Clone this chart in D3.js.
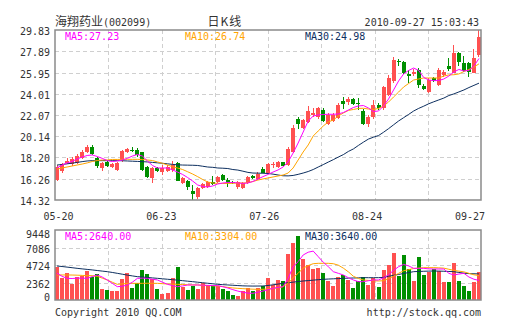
<!DOCTYPE html>
<html><head><meta charset="utf-8">
<script src="https://cdn.jsdelivr.net/npm/d3@7"></script>
<style>
body{margin:0;background:#fff}
svg{display:block}
text{font-family:"DejaVu Sans Mono","Liberation Mono",monospace;font-size:10px}
</style>
</head><body>
<svg id="chart" width="505" height="330"></svg>
<script>
// ---------- DATA ----------
const stockName = "海翔药业";
const stockCode = "(002099)";
const chartTitle = "日K线";
const stamp = "2010-09-27 15:03:43";

const dates = ["05-20","05-21","05-24","05-25","05-26","05-27","05-28","05-31",
"06-01","06-02","06-03","06-04","06-07","06-08","06-09","06-10","06-11",
"06-17","06-18","06-21","06-22","06-23","06-24","06-25","06-28","06-29","06-30",
"07-05","07-06","07-07","07-08","07-09","07-12","07-13","07-14","07-15","07-16",
"07-19","07-20","07-21","07-22","07-23","07-26","07-27","07-28","07-29","07-30",
"08-02","08-03","08-04","08-05","08-06","08-09","08-10","08-11","08-12","08-13",
"08-16","08-17","08-18","08-19","08-20","08-23","08-24","08-25","08-26","08-27",
"08-30","08-31","09-01","09-02","09-03","09-06","09-07","09-08","09-09","09-10",
"09-13","09-14","09-15","09-16","09-17","09-20","09-21","09-27"];

const opens = [16.15,16.97,17.72,17.58,17.72,18.13,18.67,19.18,18.13,17.21,
17.76,17.30,17.06,17.97,18.67,18.88,18.88,18.67,17.36,16.35,
17.27,16.90,16.97,17.06,17.67,15.84,16.08,15.17,14.62,15.39,
15.53,15.99,15.99,16.60,16.14,15.99,15.48,15.39,15.84,16.54,
16.21,17.15,16.76,17.51,17.36,17.76,17.51,18.67,21.71,20.86,
21.46,22.08,21.92,22.53,21.23,21.56,21.77,23.35,23.29,23.51,
23.20,22.47,21.25,21.92,22.96,22.71,23.93,25.15,26.97,26.88,
25.82,25.79,26.21,24.75,24.15,25.45,24.84,25.73,26.55,25.94,
27.71,26.79,26.85,25.94,27.55];
const highs = [17.51,17.67,18.18,18.27,18.52,18.88,19.34,19.34,18.27,17.81,
17.97,17.67,17.81,18.88,19.04,19.13,19.09,18.73,17.45,17.36,
17.36,17.51,17.51,17.88,17.76,16.42,16.14,15.69,15.53,15.87,
16.05,16.54,16.51,16.66,16.30,16.05,16.05,15.96,16.54,16.60,
16.85,17.33,17.67,17.81,17.88,17.81,19.18,21.16,21.92,21.71,
22.92,22.69,22.83,22.69,22.26,22.23,23.14,23.75,23.75,23.63,
23.60,22.62,22.08,23.47,23.17,24.72,25.75,27.34,27.21,26.97,
26.21,26.27,26.34,24.90,25.45,25.54,26.36,26.18,27.28,28.46,
27.85,27.46,26.94,28.07,29.83];
const lows = [16.05,16.76,17.60,17.45,17.60,18.06,18.58,18.43,17.21,16.97,
17.36,17.21,16.97,17.81,18.58,18.67,18.27,16.97,16.35,15.87,
16.90,16.60,16.87,16.90,16.08,15.78,15.23,14.32,14.41,15.32,
15.44,15.69,15.87,16.08,15.48,15.78,15.32,15.32,15.78,16.24,
16.14,16.76,16.66,17.21,17.27,17.42,17.45,18.58,20.80,20.80,
21.32,21.92,21.71,21.46,21.16,21.46,21.71,22.60,22.99,22.99,
22.53,21.16,21.01,21.71,22.56,22.53,23.81,24.99,26.52,25.82,
24.99,25.63,24.51,24.36,24.06,25.06,24.75,25.54,26.09,25.88,
26.55,26.03,25.52,25.88,27.40];
const closes = [17.36,17.58,17.91,18.06,18.33,18.73,19.18,18.52,17.42,17.72,
17.42,17.58,17.67,18.79,18.95,18.79,18.43,17.06,16.45,17.21,
16.97,17.27,17.36,17.51,16.08,16.30,15.48,14.87,15.44,15.75,
15.93,15.75,16.45,16.14,15.84,15.84,15.93,15.84,16.45,16.30,
16.66,16.81,17.58,17.63,17.76,17.45,18.97,20.92,21.25,21.62,
22.44,22.29,22.69,21.56,22.08,22.08,22.99,23.05,23.51,23.05,
23.05,21.25,21.92,22.99,22.71,24.60,25.45,27.12,26.88,25.91,
25.66,26.03,24.84,24.45,25.24,25.15,26.21,26.00,26.27,27.76,
26.94,26.12,26.03,27.25,29.22];

const ma5 = [17.24,17.51,17.70,17.83,18.06,18.24,18.38,18.43,18.29,18.12,
17.92,17.83,17.88,17.97,18.12,18.33,18.47,18.33,17.88,17.47,
17.24,17.24,17.24,17.06,16.87,16.65,16.37,16.05,15.69,15.55,
15.51,15.60,15.78,15.87,15.92,15.92,15.87,15.84,15.87,16.01,
16.24,16.45,16.65,16.87,17.06,17.33,17.79,18.61,19.52,20.52,
21.53,21.98,22.08,22.12,22.14,22.14,22.17,22.30,22.53,22.76,
22.90,22.94,22.71,22.39,22.44,22.90,23.54,24.36,25.18,25.82,
26.14,26.36,26.14,25.50,25.27,25.21,25.22,25.36,25.63,26.00,
26.23,26.09,26.14,26.55,27.23];
const ma10 = [17.15,17.24,17.33,17.42,17.51,17.60,17.70,17.83,17.92,17.97,
17.97,18.02,18.02,18.03,18.03,18.03,18.03,18.02,17.97,17.92,
17.79,17.67,17.51,17.36,17.24,17.10,16.90,16.69,16.45,16.19,
15.96,15.87,15.84,15.83,15.83,15.84,15.87,15.87,15.90,16.01,
16.14,16.24,16.33,16.42,16.51,16.60,16.78,17.24,17.97,18.70,
19.34,20.16,20.62,21.07,21.44,21.62,21.98,22.26,22.49,22.58,
22.67,22.69,22.62,22.58,22.67,22.90,23.26,23.72,24.17,24.63,
24.95,25.27,25.36,25.45,25.45,25.45,25.45,25.63,25.73,25.75,
25.82,26.04,26.23,26.46,26.74];
const ma30 = [17.51,17.56,17.62,17.68,17.75,17.82,17.88,17.91,17.91,17.91,
17.91,17.91,17.91,17.90,17.88,17.86,17.84,17.82,17.79,17.75,
17.71,17.67,17.62,17.57,17.53,17.51,17.50,17.49,17.47,17.40,
17.33,17.30,17.24,17.22,17.19,17.10,17.05,16.95,16.84,16.78,
16.77,16.76,16.74,16.68,16.60,16.53,16.52,16.56,16.66,16.78,
16.92,17.10,17.33,17.55,17.78,18.00,18.24,18.46,18.75,18.98,
19.30,19.60,19.88,20.05,20.20,20.50,20.83,21.18,21.53,21.83,
22.13,22.44,22.68,22.88,23.10,23.28,23.45,23.62,23.85,24.00,
24.18,24.36,24.58,24.78,24.98];

const volumes = [4410,3015,3690,2160,3150,3285,3915,3150,3510,1485,
1350,1215,1215,2835,3690,1665,2250,4050,3510,2835,
1485,855,990,3015,4455,1710,1350,1890,1485,2340,
2025,1890,1890,1485,1260,675,540,1260,1665,1260,
1620,1900,2970,1980,2700,2565,6250,7740,8670,5600,
4725,4160,4275,3690,2590,1920,3100,3375,2650,1665,
2600,3150,2000,2970,1800,4100,4725,6390,3220,6075,
4230,2590,5800,3375,3750,4185,3900,2450,2450,5040,
2590,1935,1260,2450,3825];
const volMa5 = [3600,3200,2925,2900,2950,2950,2925,3150,3375,3100,
2700,2250,1800,1850,2025,2400,2925,2950,2925,2800,
2700,2400,2115,1950,1800,1900,2025,2025,2025,2000,
1970,1950,1935,1800,1620,1400,1200,1050,930,900,
1050,1200,1400,1575,1700,1800,2900,4500,5175,6075,
6450,6600,5850,5100,4500,3825,3600,3375,3000,2700,
2475,2475,2600,2700,2700,3000,3400,4000,4500,4800,
4600,4275,4275,4275,4200,4185,4185,4185,3600,3375,
3500,3600,3100,2800,2640];
const volMa10 = [3375,3380,3380,3370,3350,3320,3290,3285,3200,2950,
2700,2400,2115,2180,2230,2250,2250,2250,2260,2250,
2250,2200,2160,2130,2115,2090,2060,2040,2025,1990,
1950,1920,1890,1800,1700,1630,1575,1530,1490,1460,
1440,1440,1500,1560,1650,1800,2250,3000,3600,4300,
4650,4900,4950,4950,4950,4900,4700,4300,3800,3200,
2900,2700,2650,2600,2565,2600,2900,3200,3600,3950,
4100,4250,4300,4365,4365,4365,4340,4300,4150,4000,
3900,3800,3600,3400,3304];
const volMa30 = [4590,4520,4440,4360,4275,4200,4130,4060,3980,3900,
3825,3720,3600,3480,3360,3250,3150,3100,3040,2980,
2925,2860,2800,2740,2680,2610,2540,2475,2400,2330,
2260,2190,2115,2070,2030,1990,1950,1910,1890,1880,
1885,1890,1960,2050,2150,2250,2330,2410,2490,2565,
2620,2680,2740,2790,2830,2860,2890,2925,2950,2970,
2990,3015,3010,3010,3015,3050,3200,3330,3450,3580,
3700,3825,3850,3880,3900,3915,3900,3880,3850,3825,
3720,3620,3560,3540,3520];

const priceTicks = [14.32,16.26,18.20,20.14,22.07,24.01,25.95,27.89,29.83];
const volTicks = [0,2362,4724,7086,9448];
const dateTicks = ["05-20","06-23","07-26","08-24","09-27"];
const maLabels = ["MA5:27.23","MA10:26.74","MA30:24.98"];
const volMaLabels = ["MA5:2640.00","MA10:3304.00","MA30:3640.00"];
const footLeft = "Copyright 2010 QQ.COM";
const footRight = "http://stock.qq.com";

// ---------- STYLE ----------
const RED = "#ff5050", GREEN = "#008f00";
const C5 = "#ff00ff", C10 = "#ffa500", C30 = "#0d2f5f";
const GRID = "#cfcfcf", FRAME = "#8a8a8a", TXT = "#333";

const svg = d3.select("#chart");
const L = 55, R = 481;
const mainTop = 30, mainBot = 200, volTop = 230, volBot = 300;

const x = d3.scaleBand().domain(dates).range([L, R]).paddingInner(0.2).paddingOuter(0);
const cx = d => x(d) + x.bandwidth() / 2;
const yP = d3.scaleLinear().domain([priceTicks[0], priceTicks[priceTicks.length-1]]).range([mainBot, mainTop]);
const yV = d3.scaleLinear().domain([0, volTicks[volTicks.length-1]]).range([volBot, volTop]);
const gridX = d3.scaleLinear().domain([0, 8]).range([L, R]);
const labelX = d3.scaleLinear().domain([0, dates.length-1]).range([58.5, 470]);

const rows = dates.map((d,i)=>({d, o:opens[i], h:highs[i], l:lows[i], c:closes[i], v:volumes[i],
  m5:ma5[i], m10:ma10[i], m30:ma30[i], v5:volMa5[i], v10:volMa10[i], v30:volMa30[i]}));
const col = r => r.c >= r.o ? RED : GREEN;

function panelGrid(top, bot, yScale, ticks){
  const g = svg.append("g");
  g.selectAll("line.h").data(ticks.slice(1, -1)).join("line")
    .attr("x1", L).attr("x2", R)
    .attr("y1", t => Math.round(yScale(t)) + 0.5).attr("y2", t => Math.round(yScale(t)) + 0.5)
    .attr("stroke", GRID).attr("stroke-dasharray", "4,3");
  g.selectAll("line.v").data(d3.range(1, 8)).join("line")
    .attr("x1", k => Math.round(gridX(k)) + 0.5).attr("x2", k => Math.round(gridX(k)) + 0.5)
    .attr("y1", top).attr("y2", bot)
    .attr("stroke", GRID).attr("stroke-dasharray", "4,3");
}
panelGrid(mainTop, mainBot, yP, priceTicks);
panelGrid(volTop, volBot, yV, volTicks);

// candles
const cg = svg.append("g").attr("shape-rendering", "crispEdges");
cg.selectAll("line.wick").data(rows).join("line")
  .attr("x1", r => Math.floor(cx(r.d)) + 0.5).attr("x2", r => Math.floor(cx(r.d)) + 0.5)
  .attr("y1", r => yP(r.h)).attr("y2", r => yP(r.l))
  .attr("stroke", col);
cg.selectAll("rect").data(rows).join("rect")
  .attr("x", r => Math.round(x(r.d)))
  .attr("width", Math.round(x.bandwidth()))
  .attr("y", r => yP(Math.max(r.o, r.c)))
  .attr("height", r => Math.max(1, yP(Math.min(r.o, r.c)) - yP(Math.max(r.o, r.c))))
  .attr("fill", col);

// volume bars
svg.append("g").attr("shape-rendering", "crispEdges")
  .selectAll("rect").data(rows).join("rect")
  .attr("x", r => Math.round(x(r.d)))
  .attr("width", Math.round(x.bandwidth()))
  .attr("y", r => yV(r.v))
  .attr("height", r => volBot - yV(r.v))
  .attr("fill", col);

// MA lines
function maLine(key, yScale, color){
  svg.append("path").datum(rows)
    .attr("fill", "none").attr("stroke", color).attr("stroke-width", 1)
    .attr("d", d3.line().x(r => cx(r.d)).y(r => yScale(r[key])));
}
maLine("m30", yP, C30); maLine("m10", yP, C10); maLine("m5", yP, C5);
maLine("v30", yV, C30); maLine("v10", yV, C10); maLine("v5", yV, C5);

// frames
[[mainTop, mainBot], [volTop, volBot]].forEach(([t, b]) => {
  svg.append("rect").attr("x", L).attr("y", t).attr("width", R - L).attr("height", b - t)
    .attr("fill", "none").attr("stroke", FRAME).attr("stroke-width", 1.5);
});

// y labels
svg.append("g").selectAll("text").data(priceTicks).join("text")
  .attr("x", 50).attr("y", t => yP(t) + 1.5)
  .attr("text-anchor", "end").attr("dominant-baseline", "central").attr("fill", TXT)
  .text(t => t.toFixed(2));
svg.append("g").selectAll("text").data(volTicks).join("text")
  .attr("x", 50).attr("y", t => Math.min(297, Math.max(234, yV(t) + 1.5)))
  .attr("text-anchor", "end").attr("dominant-baseline", "central").attr("fill", TXT)
  .text(t => String(t));

// date labels
svg.append("g").selectAll("text").data(dateTicks).join("text")
  .attr("x", d => labelX(dates.indexOf(d))).attr("y", 220)
  .attr("text-anchor", "middle").attr("fill", TXT).text(d => d);

// MA legends
const legX = [65, 185, 305], legC = [C5, C10, C30];
svg.append("g").selectAll("text").data(maLabels).join("text")
  .attr("x", (d,i) => legX[i]).attr("y", 40).attr("fill", (d,i) => legC[i]).text(d => d);
svg.append("g").selectAll("text").data(volMaLabels).join("text")
  .attr("x", (d,i) => legX[i]).attr("y", 240).attr("fill", (d,i) => legC[i]).text(d => d);

// header
const hdr = svg.append("text").attr("x", 55).attr("y", 26).attr("fill", TXT);
hdr.append("tspan").style("font-family", "'Noto Sans CJK SC',sans-serif").style("font-size", "12px").text(stockName);
hdr.append("tspan").text(stockCode);
svg.append("text").attr("x", 225).attr("y", 26).attr("text-anchor", "middle")
  .style("font-family", "'Noto Sans CJK SC',sans-serif").style("font-size", "12px")
  .attr("letter-spacing", 1).attr("fill", TXT).text(chartTitle);
svg.append("text").attr("x", 479).attr("y", 26).attr("text-anchor", "end").attr("fill", TXT).text(stamp);

// footer
svg.append("text").attr("x", 55).attr("y", 316).attr("fill", TXT).text(footLeft);
svg.append("text").attr("x", 481).attr("y", 316).attr("text-anchor", "end").attr("fill", TXT).text(footRight);
</script>
</body></html>
